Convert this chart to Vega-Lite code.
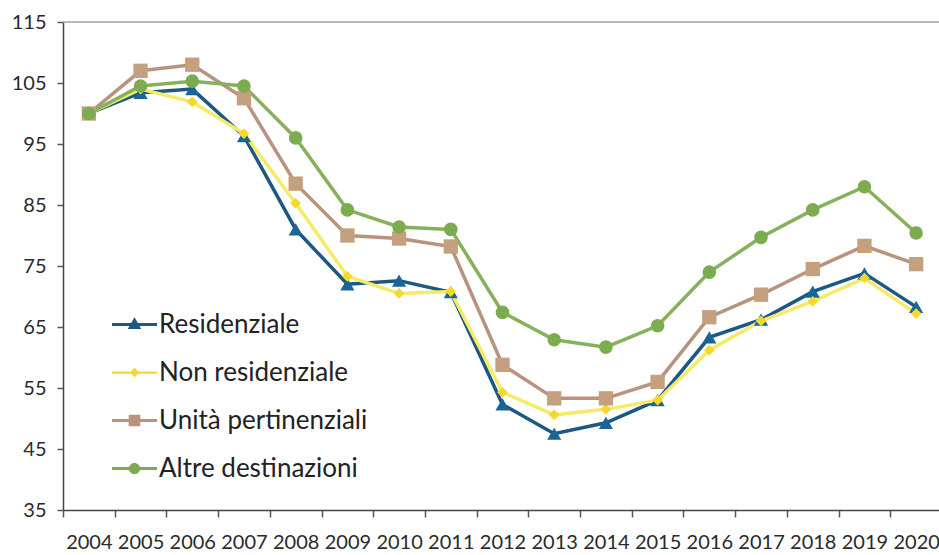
{
  "$schema": "https://vega.github.io/schema/vega-lite/v6.json",
  "width": 879,
  "height": 488,
  "autosize": {"type": "none"},
  "padding": {"left": 63, "top": 22, "right": 0, "bottom": 45},
  "background": "white",
  "config": {"view": {"stroke": null}, "font": "Lato"},
  "datasets": {
    "d": [
      {"year": "2004", "series": "Residenziale", "value": 100},
      {"year": "2005", "series": "Residenziale", "value": 103.4},
      {"year": "2006", "series": "Residenziale", "value": 104.0},
      {"year": "2007", "series": "Residenziale", "value": 96.3},
      {"year": "2008", "series": "Residenziale", "value": 81.0},
      {"year": "2009", "series": "Residenziale", "value": 72.0},
      {"year": "2010", "series": "Residenziale", "value": 72.6},
      {"year": "2011", "series": "Residenziale", "value": 70.7},
      {"year": "2012", "series": "Residenziale", "value": 52.3},
      {"year": "2013", "series": "Residenziale", "value": 47.5},
      {"year": "2014", "series": "Residenziale", "value": 49.3},
      {"year": "2015", "series": "Residenziale", "value": 53.0},
      {"year": "2016", "series": "Residenziale", "value": 63.3},
      {"year": "2017", "series": "Residenziale", "value": 66.2},
      {"year": "2018", "series": "Residenziale", "value": 70.8},
      {"year": "2019", "series": "Residenziale", "value": 73.8},
      {"year": "2020", "series": "Residenziale", "value": 68.3},
      {"year": "2004", "series": "Non residenziale", "value": 100},
      {"year": "2005", "series": "Non residenziale", "value": 104.0},
      {"year": "2006", "series": "Non residenziale", "value": 101.9},
      {"year": "2007", "series": "Non residenziale", "value": 96.7},
      {"year": "2008", "series": "Non residenziale", "value": 85.3},
      {"year": "2009", "series": "Non residenziale", "value": 73.3},
      {"year": "2010", "series": "Non residenziale", "value": 70.5},
      {"year": "2011", "series": "Non residenziale", "value": 70.8},
      {"year": "2012", "series": "Non residenziale", "value": 54.3},
      {"year": "2013", "series": "Non residenziale", "value": 50.6},
      {"year": "2014", "series": "Non residenziale", "value": 51.5},
      {"year": "2015", "series": "Non residenziale", "value": 53.0},
      {"year": "2016", "series": "Non residenziale", "value": 61.2},
      {"year": "2017", "series": "Non residenziale", "value": 66.0},
      {"year": "2018", "series": "Non residenziale", "value": 69.2},
      {"year": "2019", "series": "Non residenziale", "value": 73.0},
      {"year": "2020", "series": "Non residenziale", "value": 67.2},
      {"year": "2004", "series": "Unità pertinenziali", "value": 100},
      {"year": "2005", "series": "Unità pertinenziali", "value": 107.0},
      {"year": "2006", "series": "Unità pertinenziali", "value": 108.0},
      {"year": "2007", "series": "Unità pertinenziali", "value": 102.5},
      {"year": "2008", "series": "Unità pertinenziali", "value": 88.5},
      {"year": "2009", "series": "Unità pertinenziali", "value": 80.0},
      {"year": "2010", "series": "Unità pertinenziali", "value": 79.5},
      {"year": "2011", "series": "Unità pertinenziali", "value": 78.2},
      {"year": "2012", "series": "Unità pertinenziali", "value": 58.8},
      {"year": "2013", "series": "Unità pertinenziali", "value": 53.3},
      {"year": "2014", "series": "Unità pertinenziali", "value": 53.3},
      {"year": "2015", "series": "Unità pertinenziali", "value": 56.0},
      {"year": "2016", "series": "Unità pertinenziali", "value": 66.6},
      {"year": "2017", "series": "Unità pertinenziali", "value": 70.3},
      {"year": "2018", "series": "Unità pertinenziali", "value": 74.5},
      {"year": "2019", "series": "Unità pertinenziali", "value": 78.3},
      {"year": "2020", "series": "Unità pertinenziali", "value": 75.3},
      {"year": "2004", "series": "Altre destinazioni", "value": 100},
      {"year": "2005", "series": "Altre destinazioni", "value": 104.5},
      {"year": "2006", "series": "Altre destinazioni", "value": 105.3},
      {"year": "2007", "series": "Altre destinazioni", "value": 104.5},
      {"year": "2008", "series": "Altre destinazioni", "value": 96.0},
      {"year": "2009", "series": "Altre destinazioni", "value": 84.2},
      {"year": "2010", "series": "Altre destinazioni", "value": 81.4},
      {"year": "2011", "series": "Altre destinazioni", "value": 81.0},
      {"year": "2012", "series": "Altre destinazioni", "value": 67.4},
      {"year": "2013", "series": "Altre destinazioni", "value": 62.9},
      {"year": "2014", "series": "Altre destinazioni", "value": 61.7},
      {"year": "2015", "series": "Altre destinazioni", "value": 65.2},
      {"year": "2016", "series": "Altre destinazioni", "value": 74.0},
      {"year": "2017", "series": "Altre destinazioni", "value": 79.7},
      {"year": "2018", "series": "Altre destinazioni", "value": 84.2},
      {"year": "2019", "series": "Altre destinazioni", "value": 88.0},
      {"year": "2020", "series": "Altre destinazioni", "value": 80.4}
    ]
  },
  "encoding": {
    "x": {
      "field": "year", "type": "ordinal",
      "scale": {"type": "band", "paddingInner": 0, "paddingOuter": 0},
      "axis": {
        "title": null, "labelAngle": 0, "tickBand": "extent",
        "labelFont": "Lato", "labelFontSize": 20, "labelColor": "#2a2a2a",
        "labelPadding": 15, "tickSize": 7, "tickColor": "#555", "tickWidth": 1.5,
        "domainColor": "#444", "domainWidth": 1.5, "grid": false
      }
    },
    "y": {
      "field": "value", "type": "quantitative",
      "scale": {"domain": [35, 115], "nice": false, "zero": false},
      "axis": {
        "title": null, "values": [35, 45, 55, 65, 75, 85, 95, 105, 115],
        "labelFont": "Lato", "labelFontSize": 20, "labelColor": "#2a2a2a",
        "labelPadding": 11, "tickSize": 6, "tickColor": "#555", "tickWidth": 1.5,
        "domainColor": "#444", "domainWidth": 1.5, "grid": false
      }
    }
  },
  "layer": [
    {
      "data": {"values": [{"v": 115}]},
      "mark": {"type": "rule", "color": "#98a69e", "strokeWidth": 1.5},
      "encoding": {
        "x": null,
        "y": {"field": "v", "type": "quantitative"}
      }
    },
    {
      "data": {"name": "d"},
      "mark": {"type": "line", "strokeWidth": 3.5},
      "encoding": {
        "color": {
          "field": "series", "type": "nominal",
          "scale": {
            "domain": ["Residenziale", "Non residenziale", "Unità pertinenziali", "Altre destinazioni"],
            "range": ["#1b5883", "#f6ea6a", "#b8937e", "#86b15c"]
          },
          "legend": {
            "orient": "none", "legendX": 49, "legendY": 280, "title": null, "padding": 0,
            "symbolSize": 2025, "symbolStrokeWidth": 0, "rowPadding": 12, "labelLimit": 500,
            "labelFont": "Lato", "labelFontSize": 26, "labelColor": "#222", "labelOffset": 2,
            "encode": {
              "symbols": {
                "update": {
                  "shape": {"signal": "datum.value === 'Residenziale' ? 'M-1,-0.07H1V0.07H-1ZM0,-0.32L0.3,0.2L-0.3,0.2Z' : datum.value === 'Non residenziale' ? 'M-1,-0.05H1V0.05H-1ZM0,-0.22L0.2,0L0,0.22L-0.2,0Z' : datum.value === 'Unità pertinenziali' ? 'M-1,-0.07H1V0.07H-1ZM-0.26,-0.26H0.26V0.26H-0.26Z' : 'M-1,-0.07H1V0.07H-1ZM-0.25,0A0.25,0.25 0 1,1 0.25,0A0.25,0.25 0 1,1 -0.25,0Z'"},
                  "fill": {"signal": "datum.value === 'Residenziale' ? '#1b5883' : datum.value === 'Non residenziale' ? '#f2d83a' : datum.value === 'Unità pertinenziali' ? '#b8937e' : '#7eab52'"},
                  "size": {"value": 2025},
                  "strokeWidth": {"value": 0},
                  "opacity": {"value": 1}
                }
              }
            }
          }
        }
      }
    },
    {
      "data": {"name": "d"},
      "transform": [{"filter": "datum.series === 'Residenziale'"}],
      "mark": {"type": "point", "shape": "triangle-up", "filled": true, "opacity": 1, "color": "#1a6594", "size": 200}
    },
    {
      "data": {"name": "d"},
      "transform": [{"filter": "datum.series === 'Non residenziale'"}],
      "mark": {"type": "point", "shape": "diamond", "filled": true, "opacity": 1, "color": "#f3d92c", "size": 115}
    },
    {
      "data": {"name": "d"},
      "transform": [{"filter": "datum.series === 'Unità pertinenziali'"}],
      "mark": {"type": "point", "shape": "square", "filled": true, "opacity": 1, "color": "#c4a07e", "size": 205}
    },
    {
      "data": {"name": "d"},
      "transform": [{"filter": "datum.series === 'Altre destinazioni'"}],
      "mark": {"type": "point", "shape": "circle", "filled": true, "opacity": 1, "color": "#7cab50", "size": 185}
    }
  ]
}
